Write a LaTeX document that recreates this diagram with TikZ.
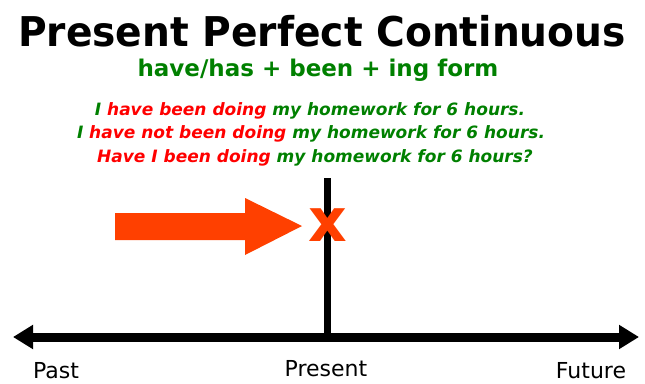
\documentclass[tikz,border=0pt]{standalone}
\usepackage{fontspec}
\setmainfont{DejaVu Sans}
\usetikzlibrary{arrows.meta, positioning}
\definecolor{tgreen}{HTML}{008000}
\definecolor{tred}{HTML}{FF0000}
\definecolor{torange}{HTML}{FF4000}
\tikzset{
  every picture/.style={line cap=butt, line join=miter},
  title/.style={font=\bfseries\fontsize{41}{41}\selectfont, inner sep=0pt},
  formula/.style={tgreen, font=\bfseries\fontsize{23}{23}\selectfont, inner sep=0pt},
  sentence/.style={tgreen, font=\bfseries\itshape\fontsize{17}{17}\selectfont, inner sep=0pt},
  timelabel/.style={font=\fontsize{22}{22}\selectfont, inner sep=0pt, anchor=base},
  timeline/.style={line width=9pt, {Triangle[length=20pt, width=23pt]}-{Triangle[length=20pt, width=23pt]}},
}
\begin{document}
\begin{tikzpicture}[x=1pt, y=-1pt]
  \useasboundingbox (0,0) rectangle (645,383);
  % headings
  \node[title] (head) at (322,31) {\scalebox{0.955}[1]{Present Perfect Continuous}};
  \node[formula] (form) at (318,70) {have/has + been + ing form};
  % example sentences
  \node[sentence] (pos) at (310,111) {\textcolor{tred}{\textcolor{tgreen}{I} have been doing} my homework for 6 hours.};
  \node[sentence] (neg) at (311,134) {\textcolor{tred}{\textcolor{tgreen}{I} have not been doing} my homework for 6 hours.};
  \node[sentence] (que) at (315,158) {\textcolor{tred}{Have I been doing} my homework for 6 hours?};
  % time line
  \coordinate (past end) at (13,337);
  \coordinate (future end) at (639,337);
  \coordinate (now top) at (327,178);
  \coordinate (now) at (327,337);
  \draw[line width=7pt] (now top) -- (now);
  \draw[timeline] (past end) -- (future end);
  % action up to now
  \fill[torange] (115,213) -- (245,213) -- (245,198) -- (302,226) -- (245,255) -- (245,240) -- (115,240) -- cycle;
  \node[torange, font=\bfseries\fontsize{60}{60}\selectfont, inner sep=0pt] (mark) at (328,225) {x};
  % labels
  \node[timelabel] (past) at (56,378) {Past};
  \node[timelabel] (present) at (326,376) {Present};
  \node[timelabel] (future) at (591,378) {Future};
\end{tikzpicture}
\end{document}
